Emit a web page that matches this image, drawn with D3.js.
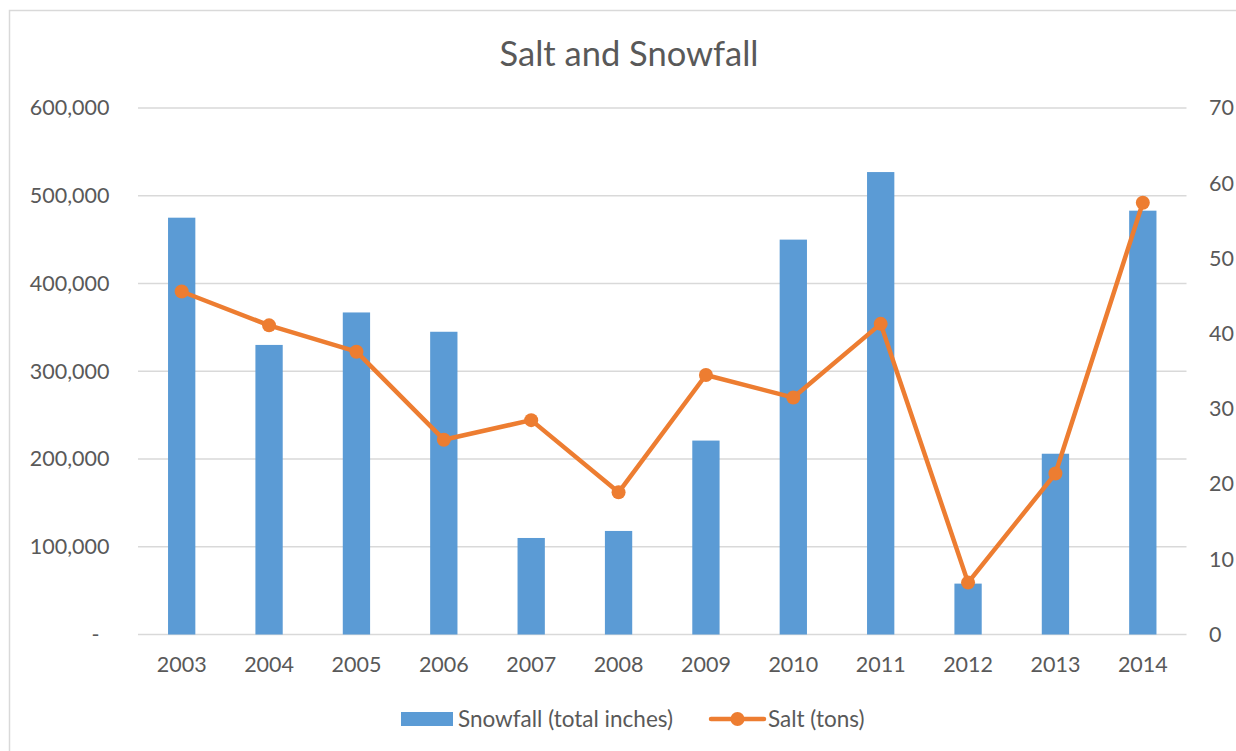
<!DOCTYPE html>
<html>
<head>
<meta charset="utf-8">
<script src="https://cdn.jsdelivr.net/npm/d3@7"></script>
<style>
	body { margin: 0; background: #fff; }
	svg text { font-family: Lato, "Open Sans", sans-serif; fill: #595959; }
</style>
</head>
<body>
<div id="chart"></div>
<script>
const years = ["2003", "2004", "2005", "2006", "2007", "2008", "2009", "2010", "2011", "2012", "2013", "2014"]
const snowfall = [475000, 330000, 367000, 345000, 110000, 118000, 221000, 450000, 527000, 58000, 206000, 483000]
const salt = [45.6, 41.1, 37.6, 25.9, 28.5, 18.9, 34.5, 31.5, 41.3, 6.9, 21.4, 57.4]
const leftTicks = [0, 100000, 200000, 300000, 400000, 500000, 600000]
const rightTicks = [0, 10, 20, 30, 40, 50, 60, 70]

const width = 1236, height = 751
const plot = { left: 138, right: 1186.5, top: 108, bottom: 634.5 }
const barColor = "#5B9BD5"
const lineColor = "#ED7D31"
const gridColor = "#D9D9D9"

const svg = d3.select("#chart").append("svg")
	.attr("width", width)
	.attr("height", height)

// chart border
svg.append("rect")
	.attr("x", 9.5).attr("y", 10.5)
	.attr("width", 1260).attr("height", 760)
	.attr("fill", "none")
	.attr("stroke", gridColor)
	.attr("stroke-width", 1.5)

const x = d3.scaleBand().domain(years)
	.range([plot.left, plot.right])
	.paddingInner(0.6875)
	.paddingOuter(0.6875 / 2)
const yLeft = d3.scaleLinear().domain([0, 600000]).range([plot.bottom, plot.top])
const yRight = d3.scaleLinear().domain([0, 70]).range([plot.bottom, plot.top])
const cx = d => x(d) + x.bandwidth() / 2

// title
svg.append("text")
	.attr("x", 629).attr("y", 66)
	.attr("text-anchor", "middle")
	.style("font-size", "34.5px")
	.text("Salt and Snowfall")

// gridlines
svg.append("g").selectAll("line")
	.data(leftTicks)
	.join("line")
	.attr("x1", plot.left).attr("x2", plot.right)
	.attr("y1", d => yLeft(d)).attr("y2", d => yLeft(d))
	.attr("stroke", gridColor)
	.attr("stroke-width", 1.5)

// left axis
const fmt = d3.format(",")
const leftAxis = svg.append("g")
	.attr("transform", `translate(${plot.left}, 0)`)
	.call(d3.axisLeft(yLeft).tickValues(leftTicks).tickSize(0).tickPadding(28.5)
		.tickFormat(d => d === 0 ? "-" : fmt(d)))
leftAxis.select(".domain").remove()
leftAxis.selectAll("text")
	.style("font-size", "21.5px")
	.attr("fill", "#595959")
	.attr("dx", d => d === 0 ? -10 : 0)

// right axis
const rightAxis = svg.append("g")
	.attr("transform", `translate(${plot.right}, 0)`)
	.call(d3.axisRight(yRight).tickValues(rightTicks).tickSize(0).tickPadding(22.5))
rightAxis.select(".domain").remove()
rightAxis.selectAll("text")
	.style("font-size", "21.5px")
	.attr("fill", "#595959")

// bottom axis
const bottomAxis = svg.append("g")
	.attr("transform", `translate(0, ${plot.bottom})`)
	.call(d3.axisBottom(x).tickSize(0).tickPadding(22))
bottomAxis.select(".domain").remove()
bottomAxis.selectAll("text")
	.style("font-size", "21.5px")
	.attr("fill", "#595959")

// bars
svg.append("g").selectAll("rect")
	.data(years)
	.join("rect")
	.attr("x", d => x(d))
	.attr("width", x.bandwidth())
	.attr("y", (d, i) => yLeft(snowfall[i]))
	.attr("height", (d, i) => plot.bottom - yLeft(snowfall[i]))
	.attr("fill", barColor)

// salt line
const line = d3.line()
	.x((d, i) => cx(years[i]))
	.y(d => yRight(d))
svg.append("path")
	.datum(salt)
	.attr("d", line)
	.attr("fill", "none")
	.attr("stroke", lineColor)
	.attr("stroke-width", 4.5)
	.attr("stroke-linejoin", "round")
	.attr("stroke-linecap", "round")

svg.append("g").selectAll("circle")
	.data(salt)
	.join("circle")
	.attr("cx", (d, i) => cx(years[i]))
	.attr("cy", d => yRight(d))
	.attr("r", 7)
	.attr("fill", lineColor)

// legend
const legend = svg.append("g")
legend.append("rect")
	.attr("x", 401).attr("y", 712)
	.attr("width", 52).attr("height", 14)
	.attr("fill", barColor)
legend.append("text")
	.attr("x", 458).attr("y", 727)
	.style("font-size", "22.5px")
	.text("Snowfall (total inches)")
legend.append("line")
	.attr("x1", 711).attr("x2", 764)
	.attr("y1", 719).attr("y2", 719)
	.attr("stroke", lineColor)
	.attr("stroke-width", 4.5)
	.attr("stroke-linecap", "round")
legend.append("circle")
	.attr("cx", 737.5).attr("cy", 719)
	.attr("r", 7)
	.attr("fill", lineColor)
legend.append("text")
	.attr("x", 768).attr("y", 727)
	.style("font-size", "22.5px")
	.text("Salt (tons)")
</script>
</body>
</html>
